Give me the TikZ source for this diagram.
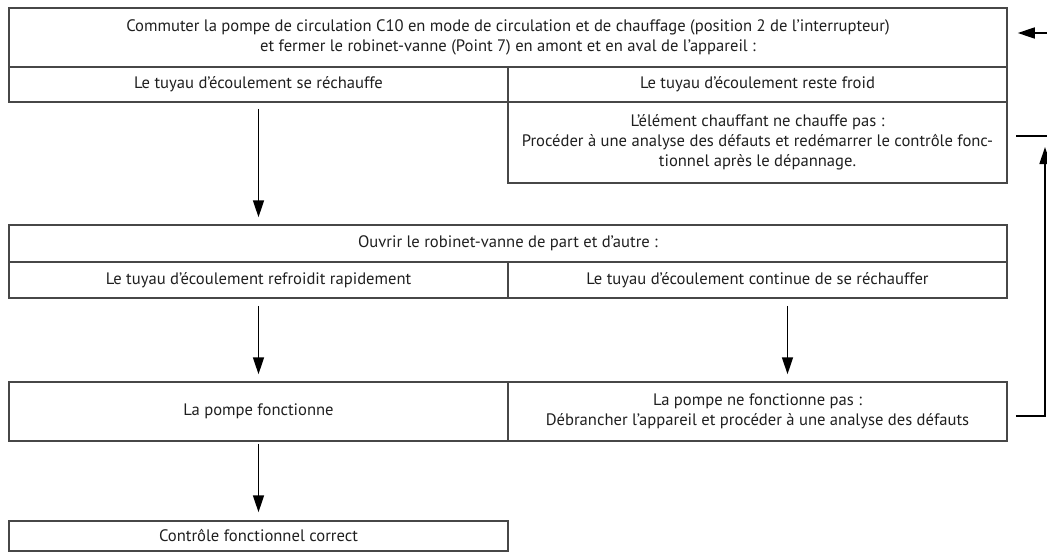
\documentclass[tikz,border=0pt]{standalone}
\usepackage{fontspec}
\setmainfont{PT Sans}
\usetikzlibrary{arrows.meta}
\newcommand{\halfw}{499pt}
\newcommand{\fullw}{998pt}

\begin{document}
\begin{tikzpicture}[x=1pt,y=-1pt,font=\fontsize{16.6}{20}\selectfont,
	arr/.style={-{Triangle[length=17pt,width=11pt]},line width=1.6pt}]
	\useasboundingbox (0,0) rectangle (1047,552);
	\begin{scope}[shape=rectangle,inner sep=0pt,line width=1.5pt]
	\tikzstyle{every node}=[draw=black!72,align=center,text=black!88]
	\node[minimum width=\fullw,minimum height=59pt] (cmd) at (508,37.5) {Commuter la pompe de circulation C10 en mode de circulation et de chauffage (position 2 de l’interrupteur)\\ et fermer le robinet-vanne (Point 7) en amont et en aval de l’appareil :};
	\node[minimum width=\halfw,minimum height=35pt] (hot) at (258.5,84.5) {Le tuyau d’écoulement se réchauffe};
	\node[minimum width=\halfw,minimum height=35pt] (cold) at (757.5,84.5) {Le tuyau d’écoulement reste froid};
	\node[minimum width=\halfw,minimum height=81pt] (heat) at (757.5,142.5) {L’élément chauffant ne chauffe pas :\\ Procéder à une analyse des défauts et redémarrer le contrôle fonc-\\ tionnel après le dépannage.};
	\node[minimum width=\fullw,minimum height=37pt] (open) at (508,243.5) {Ouvrir le robinet-vanne de part et d’autre :};
	\node[minimum width=\halfw,minimum height=36pt] (fast) at (258.5,280) {Le tuyau d’écoulement refroidit rapidement};
	\node[minimum width=\halfw,minimum height=36pt] (warm) at (757.5,280) {Le tuyau d’écoulement continue de se réchauffer};
	\node[minimum width=\halfw,minimum height=59pt] (pump) at (258.5,411.5) {La pompe fonctionne};
	\node[minimum width=\halfw,minimum height=59pt] (nopump) at (757.5,411.5) {La pompe ne fonctionne pas :\\ Débrancher l’appareil et procéder à une analyse des défauts};
	\node[minimum width=\halfw,minimum height=30pt] (ok) at (258.5,536) {Contrôle fonctionnel correct};
	\end{scope}
	% down arrows
	\draw [arr,shorten <=6pt,shorten >=7pt] (hot.south) -- (hot.south |- open.north);
	\draw [arr,shorten <=7pt,shorten >=7pt] (fast.south) -- (fast.south |- pump.north);
	\draw [arr,shorten <=7pt,shorten >=7pt] ([xshift=30pt]warm.south) -- ([xshift=30pt]warm.south |- nopump.north);
	\draw [arr,shorten <=2pt,shorten >=8pt] (pump.south) -- (pump.south |- ok.north);
	% back to the start
	\coordinate (start) at (1047,33);
	\coordinate (back) at (1045,136);
	\coordinate (backend) at (1016,136);
	\draw [arr,shorten >=10pt] (start) -- (start -| cmd.east);
	\draw [line width=1.5pt] (backend) -- (back -| start);
	\draw [arr,shorten >=11pt] ([xshift=8pt,yshift=-4.5pt]nopump.east) -| (back);
\end{tikzpicture}
\end{document}
